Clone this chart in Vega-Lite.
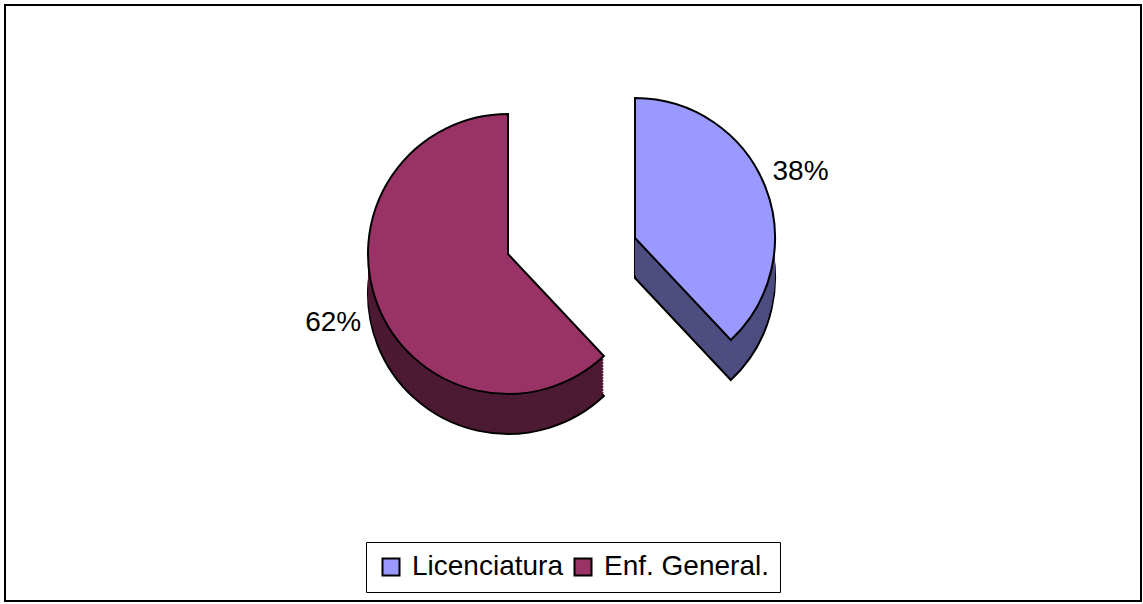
{
  "$schema": "https://vega.github.io/schema/vega-lite/v6.json",
  "width": 1143,
  "height": 604,
  "autosize": {"type": "fit", "contains": "padding"},
  "padding": {"left": 4, "top": 4, "right": 1, "bottom": 2},
  "background": "white",
  "config": {"font": "Liberation Sans"},
  "data": {
    "values": [
      {"grupo": "Licenciatura", "pct": 0.38},
      {"grupo": "Enf. General.", "pct": 0.62}
    ]
  },
  "layer": [
    {
      "encoding": {
        "theta": {"field": "pct", "type": "quantitative", "stack": true},
        "order": {"field": "pct", "type": "quantitative", "sort": "ascending"}
      },
      "layer": [
        {"mark": {"type": "arc", "radius": 140, "xOffset": 62, "yOffset": -25, "fill": "#4D4D80", "stroke": "black", "strokeWidth": 2},
         "encoding": {"opacity": {"condition": {"test": "datum.grupo === 'Licenciatura'", "value": 1}, "value": 0}}},
        {"mark": {"type": "arc", "radius": 140, "xOffset": 62, "yOffset": -28, "fill": "#4D4D80"},
         "encoding": {"opacity": {"condition": {"test": "datum.grupo === 'Licenciatura'", "value": 1}, "value": 0}}},
        {"mark": {"type": "arc", "radius": 140, "xOffset": 62, "yOffset": -31, "fill": "#4D4D80"},
         "encoding": {"opacity": {"condition": {"test": "datum.grupo === 'Licenciatura'", "value": 1}, "value": 0}}},
        {"mark": {"type": "arc", "radius": 140, "xOffset": 62, "yOffset": -34, "fill": "#4D4D80"},
         "encoding": {"opacity": {"condition": {"test": "datum.grupo === 'Licenciatura'", "value": 1}, "value": 0}}},
        {"mark": {"type": "arc", "radius": 140, "xOffset": 62, "yOffset": -37, "fill": "#4D4D80"},
         "encoding": {"opacity": {"condition": {"test": "datum.grupo === 'Licenciatura'", "value": 1}, "value": 0}}},
        {"mark": {"type": "arc", "radius": 140, "xOffset": 62, "yOffset": -40, "fill": "#4D4D80"},
         "encoding": {"opacity": {"condition": {"test": "datum.grupo === 'Licenciatura'", "value": 1}, "value": 0}}},
        {"mark": {"type": "arc", "radius": 140, "xOffset": 62, "yOffset": -43, "fill": "#4D4D80"},
         "encoding": {"opacity": {"condition": {"test": "datum.grupo === 'Licenciatura'", "value": 1}, "value": 0}}},
        {"mark": {"type": "arc", "radius": 140, "xOffset": 62, "yOffset": -46, "fill": "#4D4D80"},
         "encoding": {"opacity": {"condition": {"test": "datum.grupo === 'Licenciatura'", "value": 1}, "value": 0}}},
        {"mark": {"type": "arc", "radius": 140, "xOffset": 62, "yOffset": -49, "fill": "#4D4D80"},
         "encoding": {"opacity": {"condition": {"test": "datum.grupo === 'Licenciatura'", "value": 1}, "value": 0}}},
        {"mark": {"type": "arc", "radius": 140, "xOffset": 62, "yOffset": -52, "fill": "#4D4D80"},
         "encoding": {"opacity": {"condition": {"test": "datum.grupo === 'Licenciatura'", "value": 1}, "value": 0}}},
        {"mark": {"type": "arc", "radius": 140, "xOffset": 62, "yOffset": -55, "fill": "#4D4D80"},
         "encoding": {"opacity": {"condition": {"test": "datum.grupo === 'Licenciatura'", "value": 1}, "value": 0}}},
        {"mark": {"type": "arc", "radius": 140, "xOffset": 62, "yOffset": -58, "fill": "#4D4D80"},
         "encoding": {"opacity": {"condition": {"test": "datum.grupo === 'Licenciatura'", "value": 1}, "value": 0}}},
        {"mark": {"type": "arc", "radius": 140, "xOffset": 62, "yOffset": -61, "fill": "#4D4D80"},
         "encoding": {"opacity": {"condition": {"test": "datum.grupo === 'Licenciatura'", "value": 1}, "value": 0}}},
        {"mark": {"type": "arc", "radius": 140, "xOffset": 62, "yOffset": -64, "fill": "#4D4D80"},
         "encoding": {"opacity": {"condition": {"test": "datum.grupo === 'Licenciatura'", "value": 1}, "value": 0}}},
        {"mark": {"type": "arc", "radius": 140, "xOffset": 62, "yOffset": -65, "stroke": "black", "strokeWidth": 2},
         "encoding": {
           "color": {"field": "grupo", "type": "nominal",
             "scale": {"domain": ["Licenciatura", "Enf. General."], "range": ["#9999FF", "#993366"]},
             "legend": {"orient": "none", "legendX": 361, "legendY": 537, "direction": "horizontal", "title": null,
               "symbolType": "square", "symbolSize": 289, "symbolStrokeColor": "black", "symbolStrokeWidth": 2,
               "labelFontSize": 28, "labelFont": "Liberation Sans", "labelColor": "black", "labelOffset": 7,
               "columnPadding": 6, "padding": 11, "strokeColor": "black", "fillColor": "white", "labelLimit": 0}},
           "opacity": {"condition": {"test": "datum.grupo === 'Licenciatura'", "value": 1}, "value": 0}}},
        {"mark": {"type": "text", "radius": 178, "xOffset": 62, "yOffset": -65, "fontSize": 28, "font": "Liberation Sans", "color": "black"},
         "encoding": {
           "text": {"field": "pct", "type": "quantitative", "format": ".0%"},
           "opacity": {"condition": {"test": "datum.grupo === 'Licenciatura'", "value": 1}, "value": 0}}},

        {"mark": {"type": "arc", "radius": 140, "xOffset": -65, "yOffset": -9, "fill": "#4D1A33", "stroke": "black", "strokeWidth": 2},
         "encoding": {"opacity": {"condition": {"test": "datum.grupo === 'Enf. General.'", "value": 1}, "value": 0}}},
        {"mark": {"type": "arc", "radius": 140, "xOffset": -65, "yOffset": -12, "fill": "#4D1A33"},
         "encoding": {"opacity": {"condition": {"test": "datum.grupo === 'Enf. General.'", "value": 1}, "value": 0}}},
        {"mark": {"type": "arc", "radius": 140, "xOffset": -65, "yOffset": -15, "fill": "#4D1A33"},
         "encoding": {"opacity": {"condition": {"test": "datum.grupo === 'Enf. General.'", "value": 1}, "value": 0}}},
        {"mark": {"type": "arc", "radius": 140, "xOffset": -65, "yOffset": -18, "fill": "#4D1A33"},
         "encoding": {"opacity": {"condition": {"test": "datum.grupo === 'Enf. General.'", "value": 1}, "value": 0}}},
        {"mark": {"type": "arc", "radius": 140, "xOffset": -65, "yOffset": -21, "fill": "#4D1A33"},
         "encoding": {"opacity": {"condition": {"test": "datum.grupo === 'Enf. General.'", "value": 1}, "value": 0}}},
        {"mark": {"type": "arc", "radius": 140, "xOffset": -65, "yOffset": -24, "fill": "#4D1A33"},
         "encoding": {"opacity": {"condition": {"test": "datum.grupo === 'Enf. General.'", "value": 1}, "value": 0}}},
        {"mark": {"type": "arc", "radius": 140, "xOffset": -65, "yOffset": -27, "fill": "#4D1A33"},
         "encoding": {"opacity": {"condition": {"test": "datum.grupo === 'Enf. General.'", "value": 1}, "value": 0}}},
        {"mark": {"type": "arc", "radius": 140, "xOffset": -65, "yOffset": -30, "fill": "#4D1A33"},
         "encoding": {"opacity": {"condition": {"test": "datum.grupo === 'Enf. General.'", "value": 1}, "value": 0}}},
        {"mark": {"type": "arc", "radius": 140, "xOffset": -65, "yOffset": -33, "fill": "#4D1A33"},
         "encoding": {"opacity": {"condition": {"test": "datum.grupo === 'Enf. General.'", "value": 1}, "value": 0}}},
        {"mark": {"type": "arc", "radius": 140, "xOffset": -65, "yOffset": -36, "fill": "#4D1A33"},
         "encoding": {"opacity": {"condition": {"test": "datum.grupo === 'Enf. General.'", "value": 1}, "value": 0}}},
        {"mark": {"type": "arc", "radius": 140, "xOffset": -65, "yOffset": -39, "fill": "#4D1A33"},
         "encoding": {"opacity": {"condition": {"test": "datum.grupo === 'Enf. General.'", "value": 1}, "value": 0}}},
        {"mark": {"type": "arc", "radius": 140, "xOffset": -65, "yOffset": -42, "fill": "#4D1A33"},
         "encoding": {"opacity": {"condition": {"test": "datum.grupo === 'Enf. General.'", "value": 1}, "value": 0}}},
        {"mark": {"type": "arc", "radius": 140, "xOffset": -65, "yOffset": -45, "fill": "#4D1A33"},
         "encoding": {"opacity": {"condition": {"test": "datum.grupo === 'Enf. General.'", "value": 1}, "value": 0}}},
        {"mark": {"type": "arc", "radius": 140, "xOffset": -65, "yOffset": -48, "fill": "#4D1A33"},
         "encoding": {"opacity": {"condition": {"test": "datum.grupo === 'Enf. General.'", "value": 1}, "value": 0}}},
        {"mark": {"type": "arc", "radius": 140, "xOffset": -65, "yOffset": -49, "stroke": "black", "strokeWidth": 2},
         "encoding": {
           "color": {"field": "grupo", "type": "nominal",
             "scale": {"domain": ["Licenciatura", "Enf. General."], "range": ["#9999FF", "#993366"]},
             "legend": {"orient": "none", "legendX": 361, "legendY": 537, "direction": "horizontal", "title": null,
               "symbolType": "square", "symbolSize": 289, "symbolStrokeColor": "black", "symbolStrokeWidth": 2,
               "labelFontSize": 28, "labelFont": "Liberation Sans", "labelColor": "black", "labelOffset": 7,
               "columnPadding": 6, "padding": 11, "strokeColor": "black", "fillColor": "white", "labelLimit": 0}},
           "opacity": {"condition": {"test": "datum.grupo === 'Enf. General.'", "value": 1}, "value": 0}}},
        {"mark": {"type": "text", "radius": 188, "xOffset": -65, "yOffset": -49, "fontSize": 28, "font": "Liberation Sans", "color": "black"},
         "encoding": {
           "text": {"field": "pct", "type": "quantitative", "format": ".0%"},
           "opacity": {"condition": {"test": "datum.grupo === 'Enf. General.'", "value": 1}, "value": 0}}}
      ]
    },
    {
      "mark": {"type": "rect", "fill": "transparent", "stroke": "black", "strokeWidth": 2},
      "encoding": {}
    }
  ]
}
